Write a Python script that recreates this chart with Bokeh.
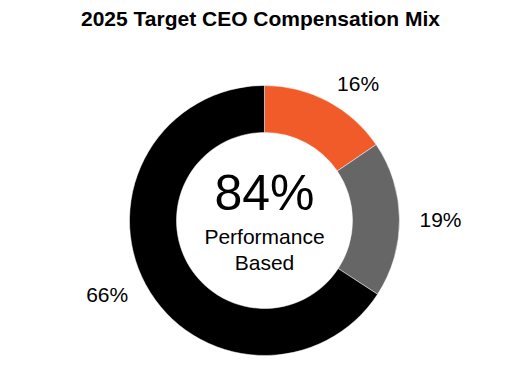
import math
from bokeh.plotting import figure
from bokeh.models import Range1d, ColumnDataSource
from bokeh.core.properties import value
from bokeh.embed import file_html
from bokeh.resources import INLINE

# Data
categories = ["Performance Cash", "Performance Equity", "Other"]
shares = [15.5, 18.7, 65.8]
labels = ["16%", "19%", "66%"]
colors = ["#F15A29", "#666666", "#000000"]
title_text = "2025 Target CEO Compensation Mix"
center_big = "84%"
center_lines = ["Performance", "Based"]

W, H = 528, 384
p = figure(width=W, height=H, output_backend="svg", toolbar_location=None,
           x_range=Range1d(0, W), y_range=Range1d(0, H), min_border=0)
p.axis.visible = False
p.grid.visible = False
p.outline_line_color = None
p.background_fill_color = "white"
p.border_fill_color = "white"

cx, cy = 264, H - 220
r_out, r_in = 135, 88
r_lab = 155

total = sum(shares)
starts, ends, lx, ly, aligns = [], [], [], [], []
cum = 0.0
for s in shares:
    a0 = math.pi / 2 - cum / total * 2 * math.pi
    cum += s
    a1 = math.pi / 2 - cum / total * 2 * math.pi
    starts.append(a0)
    ends.append(a1)
    mid = (a0 + a1) / 2
    lx.append(cx + r_lab * math.cos(mid))
    ly.append(cy + r_lab * math.sin(mid))
    aligns.append("left" if math.cos(mid) >= 0 else "right")

src = ColumnDataSource(dict(start=starts, end=ends, color=colors, lx=lx, ly=ly,
                            label=labels, align=aligns))
p.annular_wedge(x=cx, y=cy, inner_radius=r_in, outer_radius=r_out,
                start_angle="start", end_angle="end", direction="clock",
                fill_color="color", line_color="white", line_width=0.5, source=src)

p.text(x="lx", y="ly", text="label", text_align="align", text_baseline="middle",
       text_font=value("Liberation Sans"), text_font_size="21px",
       text_color="#000000", source=src)

p.text(x=[cx], y=[H - 192], text=[center_big], text_align="center",
       text_baseline="middle", text_font=value("Liberation Sans"),
       text_font_size="50px", text_color="#000000")
p.text(x=[cx, cx], y=[H - 236, H - 262], text=center_lines, text_align="center",
       text_baseline="middle", text_font=value("Liberation Sans"),
       text_font_size="21px", text_color="#000000")

p.text(x=[260], y=[H - 18], text=[title_text], text_align="center",
       text_baseline="middle", text_font=value("Liberation Sans"),
       text_font_size="21px", text_font_style="bold", text_color="#000000")

open("out.html", "w").write(file_html(p, INLINE))
